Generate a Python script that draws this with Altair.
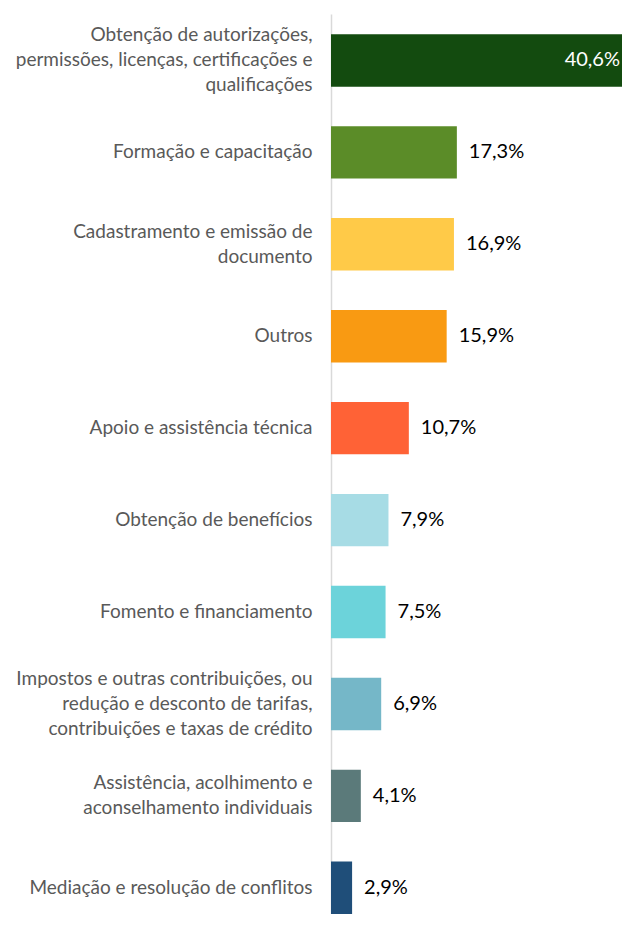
import altair as alt
import pandas as pd

categories = [
    "Obtenção de autorizações,|permissões, licenças, certificações e|qualificações",
    "Formação e capacitação",
    "Cadastramento e emissão de|documento",
    "Outros",
    "Apoio e assistência técnica",
    "Obtenção de benefícios",
    "Fomento e financiamento",
    "Impostos e outras contribuições, ou|redução e desconto de tarifas,|contribuições e taxas de crédito",
    "Assistência, acolhimento e|aconselhamento individuais",
    "Mediação e resolução de conflitos",
]
values = [40.6, 17.3, 16.9, 15.9, 10.7, 7.9, 7.5, 6.9, 4.1, 2.9]
colors = ["#134B0F", "#5B8C28", "#FFCA48", "#F99A12", "#FF6236",
          "#A7DCE5", "#6CD3DA", "#75B7C8", "#5B7A7A", "#1F4E79"]

df = pd.DataFrame({
    "cat": categories,
    "value": values,
    "label": [f"{v:.1f}".replace(".", ",") + "%" for v in values],
})
max_val = max(values)
df["is_max"] = df["value"] == max_val

FONT = "Lato"
LH = 25

y = alt.Y(
    "cat:N", sort=categories,
    scale=alt.Scale(paddingInner=0.43, paddingOuter=0.11, align=1),
    axis=alt.Axis(
        title=None, ticks=False, domainColor="#D9D9D9", domainWidth=1.5,
        labelExpr="split(datum.label, '|')", labelFont=FONT, labelFontSize=19,
        labelColor="#595959", labelLineHeight=LH, labelPadding=19,
        labelLimit=400, labelAlign="right", labelBaseline="middle",
        labelOffset={
            "condition": [
                {"test": "length(split(datum.value, '|')) == 3", "value": -LH},
                {"test": "length(split(datum.value, '|')) == 2", "value": -LH / 2},
            ],
            "value": 0,
        },
    ),
)
x = alt.X("value:Q", scale=alt.Scale(domain=[0, 40]), axis=None)

base = alt.Chart(df).encode(y=y, x=x)

bars = base.mark_bar(clip=True).encode(
    color=alt.Color("cat:N", scale=alt.Scale(domain=categories, range=colors), legend=None)
)

text_out = base.transform_filter("!datum.is_max").mark_text(
    align="left", baseline="middle", dx=12, font=FONT, fontSize=20, color="#000000"
).encode(text="label:N")

text_in = base.transform_filter("datum.is_max").mark_text(
    align="right", baseline="middle", dx=-2, font=FONT, fontSize=20, color="#FFFFFF"
).encode(x=alt.value(291), text="label:N")

chart = alt.layer(bars, text_out, text_in).properties(
    width=291, height=900,
    autosize=alt.AutoSizeParams(type="none"),
    padding={"left": 323, "top": 6, "right": 0, "bottom": 0},
).configure_view(stroke=None)

chart.save("out.html", embed_options={"renderer": "svg", "actions": False})
